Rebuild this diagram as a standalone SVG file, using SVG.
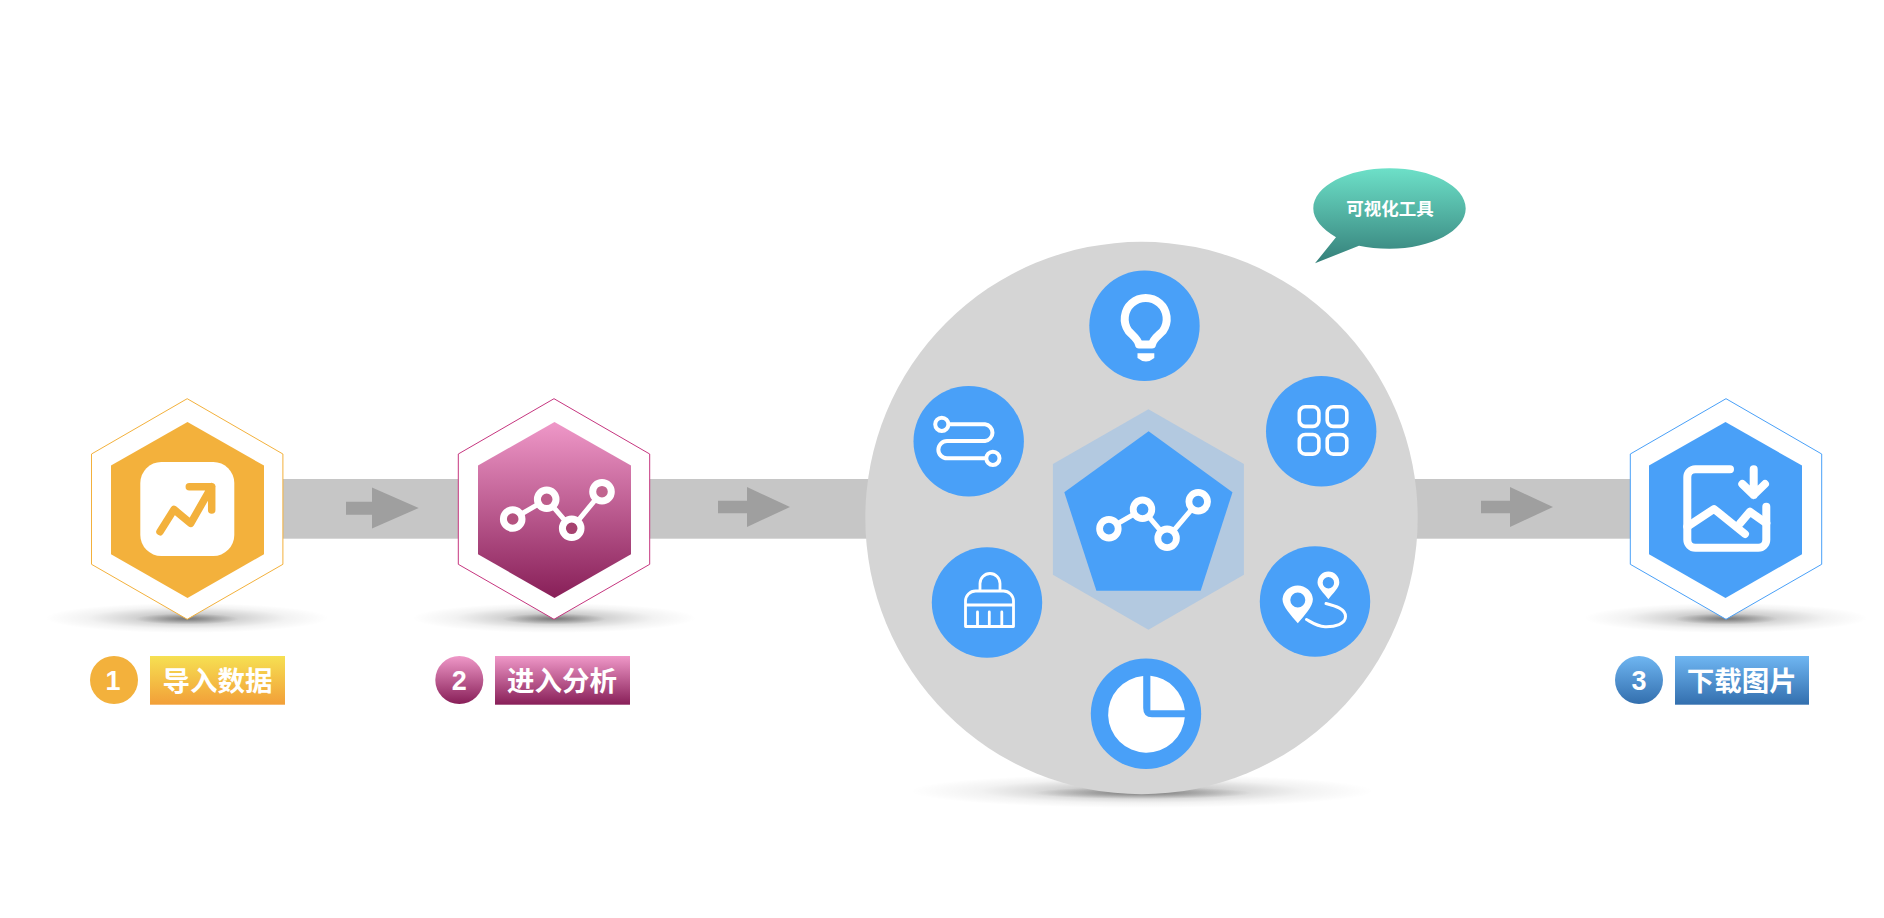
<svg xmlns="http://www.w3.org/2000/svg" width="1884" height="918" viewBox="0 0 1884 918">
<style>
.lbl{font-family:"Noto Sans CJK SC","Liberation Sans",sans-serif;font-weight:700;fill:#fff;text-anchor:middle}
.num{font-family:"Liberation Sans",Arial,sans-serif;font-weight:700;fill:#fff;text-anchor:middle;font-size:27px}
.ic{fill:none;stroke:#fff;stroke-linecap:round;stroke-linejoin:round}
.blue{fill:#49a0f8}
</style>
<defs>
<linearGradient id="gOrange" x1="0" y1="0" x2="0" y2="1"><stop offset="0" stop-color="#f6e052"/><stop offset="1" stop-color="#f29f38"/></linearGradient>
<linearGradient id="gPink" x1="0" y1="0" x2="0" y2="1"><stop offset="0" stop-color="#ef98c8"/><stop offset="1" stop-color="#881f58"/></linearGradient>
<linearGradient id="gBlue" x1="0" y1="0" x2="0" y2="1"><stop offset="0" stop-color="#6fb6f2"/><stop offset="1" stop-color="#336fae"/></linearGradient>
<linearGradient id="gTeal" x1="0" y1="0" x2="0" y2="1"><stop offset="0" stop-color="#6de0c8"/><stop offset="1" stop-color="#35807a"/></linearGradient>
<radialGradient id="gShadow"><stop offset="0" stop-color="#000" stop-opacity=".3"/><stop offset=".35" stop-color="#000" stop-opacity=".18"/><stop offset=".7" stop-color="#000" stop-opacity=".05"/><stop offset="1" stop-color="#000" stop-opacity="0"/></radialGradient>
<radialGradient id="gCore"><stop offset="0" stop-color="#000" stop-opacity=".34"/><stop offset="1" stop-color="#000" stop-opacity="0"/></radialGradient>
<polygon id="hexOuter" points="0,-110.3 95.7,-55 95.7,55.3 0,110.3 -95.7,55.3 -95.7,-55"/>
<polygon id="hexInner" points="0,-87.7 76.5,-44 76.5,44.7 0,88.3 -76.5,44.7 -76.5,-44"/>
<g id="shadow"><ellipse cx="0" cy="0" rx="142" ry="15" fill="url(#gShadow)"/><ellipse cx="0" cy="1" rx="52" ry="5.5" fill="url(#gCore)"/></g>
<path id="arrow" d="M0,-6.3H29V-20L72,0L29,20V6.3H0Z" fill="#9f9f9f"/>
</defs>
<rect width="1884" height="918" fill="#fff"/>
<g id="connectors">
<rect x="280" y="479" width="1352" height="59.7" fill="#c6c6c6"/>
<path d="M346,501.7H372V487.5L418.7,508L372,528.5V514.7H346Z" fill="#9f9f9f"/>
<use href="#arrow" transform="translate(718,507)"/>
<use href="#arrow" transform="translate(1481,507)"/>
</g>
<g id="node-import">
<use href="#shadow" transform="translate(187,618)"/>
<use href="#hexOuter" transform="translate(187.2,509)" fill="#fff" stroke="#f3b13c" stroke-width="1"/>
<use href="#hexInner" transform="translate(187.5,509.6)" fill="#f3b13c"/>
<rect x="140.3" y="462" width="94" height="94" rx="21" fill="#fff"/>
<path d="M160,531.7L174,509.5L190.7,523.3L211.7,486.7M189.3,486.7H211.7V510" fill="none" stroke="#f3b13c" stroke-width="7.5" stroke-linecap="round" stroke-linejoin="round"/>
</g>
<g id="label-import">
<circle cx="114" cy="680" r="24" fill="#f3b13c"/>
<text class="num" x="113" y="690">1</text>
<rect x="150" y="656" width="135" height="48.7" fill="url(#gOrange)"/>
<text class="lbl" x="217.5" y="691" font-size="27.5">导入数据</text>
</g>
<g id="node-analyze">
<use href="#shadow" transform="translate(554.3,618)"/>
<use href="#hexOuter" transform="translate(554,509)" fill="#fff" stroke="#c6367f" stroke-width="1"/>
<use href="#hexInner" transform="translate(554.5,509.6)" fill="url(#gPink)"/>
<g class="ic" transform="translate(512.7,519)">
<path stroke-width="5" d="M0,0L34,-19.7L59,9.3L89.3,-27.3"/>
<g stroke-width="7" fill="#b4527f"><circle r="9.3"/><circle cx="34" cy="-19.7" r="9.3" fill="#bd5d8b"/><circle cx="59" cy="9.3" r="9.3" fill="#a6416f"/><circle cx="89.3" cy="-27.3" r="9.3" fill="#c1648f"/></g>
</g>
</g>
<g id="label-analyze">
<circle cx="459.3" cy="680" r="24" fill="url(#gPink)"/>
<text class="num" x="459.3" y="690">2</text>
<rect x="495" y="656" width="135" height="48.7" fill="url(#gPink)"/>
<text class="lbl" x="562" y="691" font-size="27.5">进入分析</text>
</g>
<g id="node-tools">
<ellipse cx="1142" cy="791" rx="232" ry="17" fill="url(#gShadow)"/>
<ellipse cx="1142" cy="793" rx="110" ry="6" fill="url(#gCore)"/>
<circle cx="1141.5" cy="518" r="276.2" fill="#d5d5d5"/>
<polygon points="1148.4,409.3 1243.9,464 1243.9,574.7 1148.4,629.7 1052.9,574.7 1052.9,464" fill="#b3c9e0"/>
<polygon class="blue" points="1148.6,431.3 1232.5,492.3 1200.7,590.7 1096.4,590.7 1064.3,492.3"/>
<g class="ic" transform="translate(1108.9,528.7)">
<path stroke-width="5" d="M0,0L33.6,-19.4L58.2,9.6L89.3,-27"/>
<g stroke-width="6.8" fill="#49a0f8"><circle r="9.3"/><circle cx="33.6" cy="-19.4" r="9.3"/><circle cx="58.2" cy="9.6" r="9.3"/><circle cx="89.3" cy="-27" r="9.3"/></g>
</g>
</g>
<g id="tool-idea">
<circle class="blue" cx="1144.5" cy="325.8" r="55.2"/>
<path class="ic" stroke-width="8" d="M1139,344.5C1138,339 1133,336 1128.5,331A21,21 0 1 1 1162.9,331C1158,336 1153,339 1152,344.5Z"/>
<path fill="#fff" d="M1137.5,353.3H1154.3V358Q1146,365 1137.5,358Z"/>
</g>
<g id="tool-route">
<circle class="blue" cx="968.7" cy="441.3" r="55.2"/>
<g class="ic" stroke-width="4">
<path d="M950,424.3H985A8.4,8.4 0 0 1 985,441H947A8.65,8.65 0 0 0 947,458.3H986"/>
<circle cx="941.8" cy="424.3" r="6.6"/>
<circle cx="992.9" cy="458.3" r="6.6"/>
</g>
</g>
<g id="tool-apps">
<circle class="blue" cx="1321.2" cy="431.3" r="55.2"/>
<g class="ic" stroke-width="3.6">
<rect x="1299.3" y="406.8" width="19.6" height="19.6" rx="6"/>
<rect x="1327.2" y="406.8" width="19.6" height="19.6" rx="6"/>
<rect x="1299.3" y="434.5" width="19.6" height="19.6" rx="6"/>
<rect x="1327.2" y="434.5" width="19.6" height="19.6" rx="6"/>
</g>
</g>
<g id="tool-brush">
<circle class="blue" cx="987" cy="602.5" r="55.2"/>
<path class="ic" stroke-width="2.8" d="M980,591V583.5A10,10 0 0 1 1000,583.5V591M965.5,626.5V601A10,10 0 0 1 975.5,591H1003.5A10,10 0 0 1 1013.5,601V626.5ZM965.5,605H1013.5M977.5,612V626.5M989.3,612V626.5M1001.8,612V626.5"/>
</g>
<g id="tool-map">
<circle class="blue" cx="1315" cy="601.5" r="55.2"/>
<path fill="#fff" fill-rule="evenodd" d="M1297.8,623.3C1291,615 1282.5,607 1282.5,599A15.3,15.3 0 0 1 1312.9,599C1312.9,607 1304.5,615 1297.8,623.3ZM1305.3,600A7.5,7.5 0 1 0 1290.3,600A7.5,7.5 0 1 0 1305.3,600Z"/>
<path fill="#fff" fill-rule="evenodd" d="M1328.4,599.3C1324,593 1317.5,588 1317.5,582.5A10.9,10.9 0 0 1 1339.3,582.5C1339.3,588 1333,593 1328.4,599.3ZM1334.1,582.7A5.7,5.7 0 1 0 1322.7,582.7A5.7,5.7 0 1 0 1334.1,582.7Z"/>
<path class="ic" stroke-width="3" d="M1326,603.5C1336,606 1345.5,609 1345.5,616.5C1345.5,624 1335,627 1325,626.7C1317,626.5 1311,622 1306.5,619.5"/>
</g>
<g id="tool-pie">
<circle class="blue" cx="1146" cy="713.8" r="55.2"/>
<path fill="#fff" d="M1143.2,676V708Q1143.2,717.3 1152,717.3H1184.8A38.4,38.4 0 1 1 1143.2,676Z"/>
<path fill="#fff" d="M1150.4,675.8A38.4,38.4 0 0 1 1184.8,710.3H1150.4Z"/>
</g>
<g id="bubble">
<path fill="url(#gTeal)" d="M1336,237.3C1322,229 1313.3,219 1313.3,208.5C1313.3,186.4 1347.4,168.3 1389.5,168.3C1431.6,168.3 1465.7,186.4 1465.7,208.5C1465.7,230.6 1431.6,248.7 1389.5,248.7C1378,248.7 1368,247.7 1359,245.7L1315,263.3Z"/>
<text class="lbl" x="1390" y="215" font-size="17.5">可视化工具</text>
</g>
<g id="node-download">
<use href="#shadow" transform="translate(1726,618)"/>
<use href="#hexOuter" transform="translate(1726,509)" fill="#fff" stroke="#49a0f8" stroke-width="1"/>
<use href="#hexInner" transform="translate(1725.5,509.6)" fill="#49a0f8"/>
<g class="ic" stroke-width="8">
<path d="M1730,469.3H1695.3A8,8 0 0 0 1687.3,477.3V539.8A8,8 0 0 0 1695.3,547.8H1758.3A8,8 0 0 0 1766.3,539.8V506.7"/>
<path d="M1687.3,526.7L1714,509L1745,534M1740,523.3L1750,511.7L1766.3,523.3"/>
<path d="M1753.7,469.3V495M1742.3,484L1753.7,495L1765,484"/>
</g>
</g>
<g id="label-download">
<circle cx="1639" cy="680" r="24" fill="url(#gBlue)"/>
<text class="num" x="1639" y="690">3</text>
<rect x="1675" y="656" width="134" height="48.7" fill="url(#gBlue)"/>
<text class="lbl" x="1741.7" y="691" font-size="27.5">下载图片</text>
</g>
</svg>
